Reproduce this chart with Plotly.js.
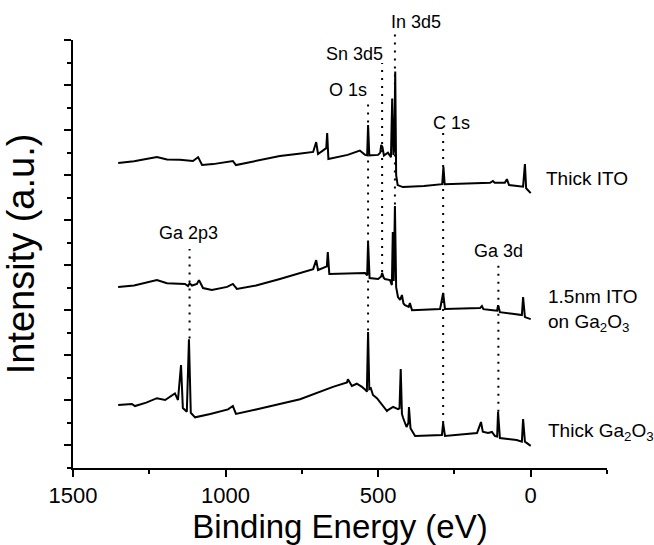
<!DOCTYPE html>
<html><head><meta charset="utf-8">
<script src="https://cdn.plot.ly/plotly-3.0.1.min.js"></script>
<style>html,body{margin:0;padding:0;background:#fff;}#chart{width:654px;height:545px;}</style>
</head><body><div id="chart"></div>
<script>
// Binding energy (eV) and offset intensity (a.u.)
const itoE = [1352,1300,1225,1192,1150,1107,1090,1077,1041,995,976,966,900,822,760,713,703,697,670,667,663,600,560,543,536,533,529,500,493,490,486,481,468,464,458,454,450,447,444,441,436,419,350,290,286,282,200,133,124,118,85,78,71,25,19,15,0];
const itoI = [13.54,13.62,13.8,13.7,13.68,13.63,13.8,13.45,13.49,13.58,13.63,13.45,13.64,13.85,13.95,14.03,14.47,13.94,14.2,14.87,13.72,13.9,14.09,13.9,13.88,15.22,13.88,13.9,14.0,14.34,14.26,13.87,14.0,13.9,13.8,16.4,13.9,14.2,17.6,13.0,12.56,12.47,12.52,12.6,13.37,12.6,12.62,12.66,12.74,12.66,12.66,12.82,12.56,12.49,13.49,12.42,12.2];

const midE = [1352,1300,1225,1192,1133,1123,1118,1110,1094,1087,1074,1045,995,976,963,900,822,713,703,697,668,665,660,600,543,536,533,528,500,490,487,482,478,461,455,452,449,445,441,435,428,422,417,412,400,396,389,297,287,281,166,160,155,124,110,107,101,60,29,25,19,0];
const midI = [8.04,8.1,8.34,8.2,8.17,8.08,8.2,8.1,8.17,8.34,7.99,7.9,8.04,8.17,7.95,8.1,8.39,8.83,9.23,8.79,8.95,9.59,8.61,8.63,8.66,8.55,10.03,8.43,8.39,8.5,8.66,8.45,8.39,8.34,8.12,10.48,8.3,11.63,8.03,7.59,7.46,7.68,7.3,7.23,7.15,7.32,7.0,7.06,7.77,7.06,7.1,7.19,7.05,7.0,6.98,7.23,6.92,6.85,6.79,7.59,6.7,6.61];

const gaE = [1352,1307,1297,1260,1225,1198,1166,1156,1146,1140,1127,1120,1114,1100,1050,1008,992,976,966,900,756,648,602,599,586,570,553,540,537,533,529,524,517,504,494,484,471,468,451,435,430,426,422,418,407,401,399,394,379,291,287,281,176,163,157,140,127,117,110,107,101,46,29,25,19,0];
const gaI = [2.8,2.84,2.75,2.9,3.1,3.02,3.31,3.02,4.57,2.66,2.5,5.71,2.45,2.25,2.4,2.53,2.6,2.75,2.4,2.6,3.05,3.6,3.8,3.94,3.64,3.74,3.6,3.45,3.38,6.04,3.5,3.54,3.24,3.1,2.93,2.71,2.53,2.57,2.71,2.61,2.65,4.39,2.4,2.22,1.82,2.0,2.71,1.77,1.42,1.46,1.99,1.42,1.55,2.04,1.61,1.55,1.6,1.42,1.4,2.49,1.33,1.24,1.17,2.17,1.17,0.98];

const seriesNames = ['Thick ITO', '1.5nm ITO<br>on Ga<sub>2</sub>O<sub>3</sub>', 'Thick Ga<sub>2</sub>O<sub>3</sub>'];
const peakNames = ['Ga 2p3', 'O 1s', 'Sn 3d5', 'In 3d5', 'C 1s', 'Ga 3d'];
const peakE = [1118, 533, 487, 445, 287, 106];

const xRange = [1500, -250];
const yRange = [0, 19];
const fx = e => (e - xRange[0]) / (xRange[1] - xRange[0]);
const fy = v => (v - yRange[0]) / (yRange[1] - yRange[0]);

const lineStyle = {color: '#000', width: 2};
const traces = [
  {x: itoE, y: itoI, type: 'scatter', mode: 'lines', line: lineStyle, hoverinfo: 'skip'},
  {x: midE, y: midI, type: 'scatter', mode: 'lines', line: lineStyle, hoverinfo: 'skip'},
  {x: gaE, y: gaI, type: 'scatter', mode: 'lines', line: lineStyle, hoverinfo: 'skip'}
];

const dotLine = {color: '#000', width: 2, dash: '2px,6px'};
// peak marker lines: [top, bottom] in a.u.
const peakSpan = [[9.72, 5.75], [16.33, 6.1], [17.98, 8.7], [19.5, 11.7], [14.87, 2.0], [9.1, 2.5]];
const shapes = peakE.map((e, i) => {
  if (peakSpan[i][0] > yRange[1]) {
    return {type: 'line', xref: 'paper', yref: 'paper', x0: fx(e), x1: fx(e), y0: fy(peakSpan[i][1]), y1: fy(peakSpan[i][0]), line: dotLine};
  }
  return {type: 'line', xref: 'x', yref: 'y', x0: e, x1: e, y0: peakSpan[i][1], y1: peakSpan[i][0], line: dotLine};
});

const labelFont = {family: 'Liberation Sans, Arial, sans-serif', size: 18, color: '#000'};
const peakLabelPos = [[1120, 10.43], [599, 16.8], [579, 18.37], [376, 19.8], [258, 15.3], [104, 9.63]];
const annotations = peakNames.map((t, i) => {
  const [lx, ly] = peakLabelPos[i];
  if (ly > yRange[1]) {
    return {text: t, xref: 'paper', yref: 'paper', x: fx(lx), y: fy(ly), showarrow: false, font: labelFont, xanchor: 'center', yanchor: 'middle'};
  }
  return {text: t, xref: 'x', yref: 'y', x: lx, y: ly, showarrow: false, font: labelFont, xanchor: 'center', yanchor: 'middle'};
});
const seriesLabelPos = [[-44, 12.87], [-49, 7.0], [-50, 1.6]];
seriesNames.forEach((t, i) => {
  annotations.push({text: t, xref: 'x', yref: 'y', x: seriesLabelPos[i][0], y: seriesLabelPos[i][1], showarrow: false, align: 'left',
    font: {family: 'Liberation Sans, Arial, sans-serif', size: 19, color: '#000'}, xanchor: 'left', yanchor: 'middle'});
});

const layout = {
  width: 654, height: 545,
  margin: {l: 73, r: 47, t: 40, b: 77},
  paper_bgcolor: '#fff', plot_bgcolor: '#fff',
  showlegend: false,
  font: {family: 'Liberation Sans, Arial, sans-serif', color: '#000'},
  xaxis: {
    range: xRange, showgrid: false, zeroline: false,
    showline: true, linecolor: '#000', linewidth: 2,
    ticks: 'outside', ticklen: 7, tickwidth: 2, tickcolor: '#000',
    tickmode: 'linear', tick0: 0, dtick: 500,
    minor: {dtick: 250, tick0: 0, ticks: 'outside', ticklen: 4, tickwidth: 2, tickcolor: '#000'},
    tickfont: {size: 22, color: '#000'},
    title: {text: 'Binding Energy (eV)', font: {size: 33, color: '#000'}, standoff: 7},
    automargin: false
  },
  yaxis: {
    range: yRange, showgrid: false, zeroline: false,
    showline: true, linecolor: '#000', linewidth: 2,
    ticks: 'outside', ticklen: 7, tickwidth: 2, tickcolor: '#000',
    tickmode: 'linear', tick0: 1, dtick: 2,
    minor: {dtick: 1, tick0: 0, ticks: 'outside', ticklen: 4, tickwidth: 2, tickcolor: '#000'},
    showticklabels: false,
    title: {text: 'Intensity (a.u.)', font: {size: 38, color: '#000'}, standoff: 20},
    automargin: false
  },
  shapes: shapes,
  annotations: annotations
};

Plotly.newPlot('chart', traces, layout, {displayModeBar: false, staticPlot: true});
</script>
</body></html>
